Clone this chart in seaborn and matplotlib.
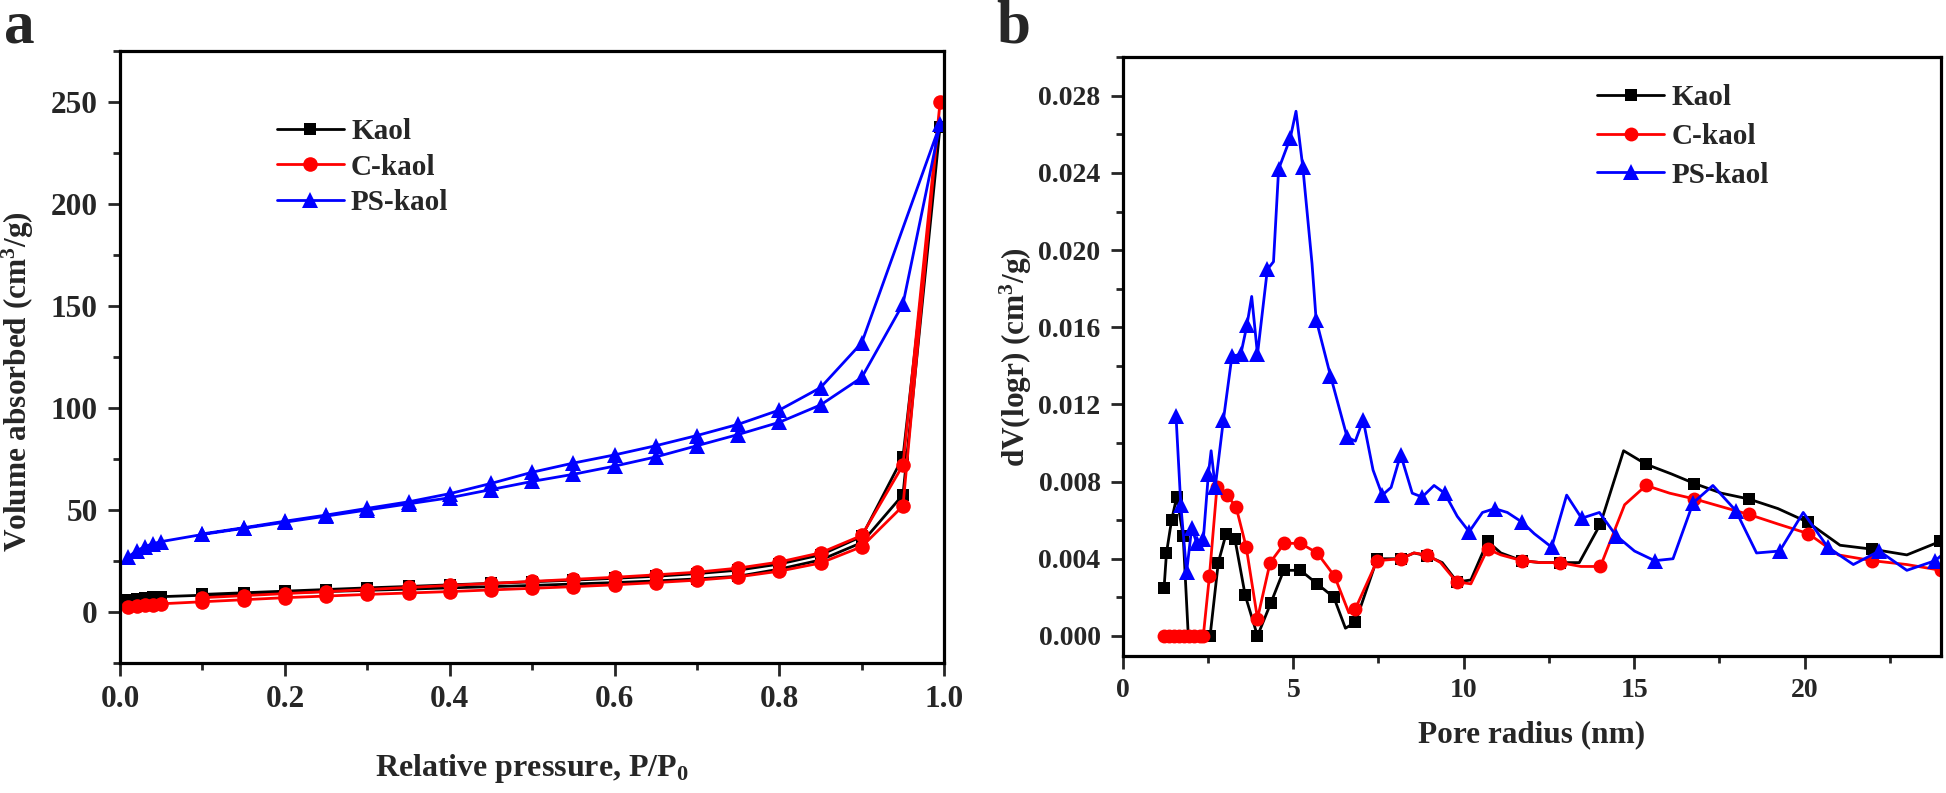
import numpy as np
import pandas as pd
import seaborn as sns
import matplotlib.pyplot as plt
from matplotlib.ticker import MultipleLocator, FormatStrFormatter

# ---- panel a: N2 isotherms, adsorption branch then desorption branch ----
p_ads = [0.01, 0.02, 0.03, 0.04, 0.05, 0.10, 0.15, 0.20, 0.25, 0.30, 0.35, 0.40,
         0.45, 0.50, 0.55, 0.60, 0.65, 0.70, 0.75, 0.80, 0.85, 0.90, 0.95, 0.995]
p_des = [0.95, 0.90, 0.85, 0.80, 0.75, 0.70, 0.65, 0.60, 0.55, 0.50, 0.45, 0.40,
         0.35, 0.30, 0.25, 0.20, 0.15, 0.10]
p_des_ps = p_des[1:]

kaol_ads = [6.0, 6.5, 6.9, 7.2, 7.5, 8.2, 8.8, 9.4, 10.0, 10.6, 11.2, 11.8,
            12.4, 13.0, 13.7, 14.4, 15.2, 16.2, 17.5, 21.0, 25.5, 34.0, 57.5, 238]
kaol_des = [76, 37, 28, 23.5, 20.5, 18.8, 17.5, 16.5, 15.6, 14.8, 14.0, 13.3,
            12.5, 11.8, 11.0, 10.2, 9.4, 8.6]
ckaol_ads = [2.2, 2.8, 3.2, 3.6, 4.0, 5.0, 6.0, 7.0, 7.8, 8.6, 9.3, 10.0,
             10.8, 11.6, 12.4, 13.3, 14.4, 15.6, 17.2, 20.0, 24.0, 32.0, 52.0, 250]
ckaol_des = [72, 37.5, 29, 24.5, 21.5, 19.5, 18.2, 17.0, 16.0, 15.0, 14.0, 13.0,
             12.0, 11.0, 10.0, 9.0, 8.0, 7.0]
ps_ads = [27, 30, 32, 33.5, 34.5, 38, 41, 44, 47, 50, 53, 56,
          60, 64, 67.5, 71.5, 76, 81.5, 87, 93, 101.5, 115, 151, 239]
ps_des = [132, 110, 99, 92, 86.5, 81.5, 77, 73, 68.5, 63, 58, 54,
          50.8, 47.5, 44.5, 41.3, 38.3]

# ---- panel b: pore size distribution ----
kaol_r = [1.21, 1.28, 1.43, 1.58, 1.77, 1.92, 2.56, 2.80, 3.03, 3.29, 3.59, 3.95,
          4.34, 4.72, 5.21, 5.70, 6.19, 6.53, 6.82, 7.46, 8.15, 8.54, 8.93, 9.37,
          9.81, 10.21, 10.70, 11.09, 11.71, 12.26, 12.82, 13.39, 14.01, 14.69, 15.35,
          16.09, 16.77, 17.56, 18.36, 19.22, 20.09, 21.04, 21.97, 23.00, 23.98]
kaol_dv = [0.0025, 0.0043, 0.0060, 0.0072, 0.0052, 0.0, 0.0, 0.0038, 0.0053, 0.0050,
           0.0021, 0.0, 0.0017, 0.0034, 0.0034, 0.0027, 0.0020, 0.0004, 0.0007, 0.0040,
           0.0040, 0.0043, 0.00415, 0.0038, 0.0028, 0.0029, 0.0049, 0.0043, 0.0039,
           0.0038, 0.0038, 0.0038, 0.0058, 0.0096, 0.0089, 0.0084, 0.0079, 0.0074,
           0.0071, 0.0066, 0.0059, 0.0047, 0.0045, 0.0042, 0.0049]
kaol_plain = [1.92, 6.53, 8.54, 9.37, 10.21, 11.09, 12.26, 13.39, 14.69, 16.09,
              17.56, 19.22, 21.04, 23.00]

ckaol_r = [1.20, 1.35, 1.50, 1.65, 1.80, 1.95, 2.10, 2.25, 2.36, 2.54, 2.76, 3.05,
           3.32, 3.62, 3.95, 4.32, 4.74, 5.21, 5.70, 6.21, 6.63, 6.82, 7.46, 8.15,
           8.54, 8.93, 9.32, 9.79, 10.21, 10.70, 11.09, 11.71, 12.26, 12.82, 13.44,
           14.01, 14.72, 15.35, 16.04, 16.77, 17.56, 18.36, 19.22, 20.11, 20.99,
           21.99, 23.00, 24.00]
ckaol_dv = [0.0, 0.0, 0.0, 0.0, 0.0, 0.0, 0.0, 0.0, 0.0, 0.0031, 0.0077, 0.0073,
            0.0067, 0.0046, 0.0009, 0.0038, 0.0048, 0.0048, 0.0043, 0.0031, 0.0012,
            0.0014, 0.0039, 0.0040, 0.0043, 0.0042, 0.0038, 0.0028, 0.0027, 0.0045,
            0.0042, 0.0039, 0.0038, 0.0038, 0.0036, 0.0036, 0.0068, 0.0078, 0.0074,
            0.0071, 0.0067, 0.0063, 0.0058, 0.0053, 0.0042, 0.0039, 0.0037, 0.0034]
ckaol_plain = [6.63, 8.54, 9.32, 10.21, 11.09, 12.26, 13.44, 14.72, 16.04, 17.56,
               19.22, 20.99, 23.00]

ps_r = [1.56, 1.70, 1.87, 2.02, 2.17, 2.36, 2.51, 2.59, 2.71, 2.95, 3.20, 3.46,
        3.64, 3.78, 3.95, 4.24, 4.42, 4.57, 4.91, 5.08, 5.28, 5.55, 5.67, 6.09,
        6.58, 6.82, 7.05, 7.34, 7.61, 7.87, 8.15, 8.49, 8.78, 9.13, 9.44, 9.81,
        10.16, 10.55, 10.91, 11.28, 11.71, 12.07, 12.58, 13.02, 13.46, 13.98, 14.47,
        15.01, 15.60, 16.14, 16.73, 17.31, 17.98, 18.59, 19.27, 19.96, 20.68, 21.43,
        22.19, 23.00, 23.83, 24.30]
ps_dv = [0.0114, 0.0068, 0.0033, 0.0056, 0.0048, 0.0050, 0.0084, 0.0096, 0.0077,
         0.0112, 0.0145, 0.0146, 0.0161, 0.0176, 0.0146, 0.0190, 0.0194, 0.0242,
         0.0258, 0.0272, 0.0243, 0.0193, 0.0164, 0.0135, 0.0103, 0.0101, 0.0112,
         0.0086, 0.0073, 0.0077, 0.0094, 0.0074, 0.0072, 0.0078, 0.0074, 0.0062,
         0.0054, 0.0064, 0.0066, 0.0064, 0.0059, 0.0053, 0.0046, 0.0073, 0.0061,
         0.0064, 0.0052, 0.0044, 0.0039, 0.0040, 0.0069, 0.0078, 0.0065, 0.0043,
         0.0044, 0.0064, 0.0046, 0.0037, 0.0044, 0.0034, 0.0039, 0.0046]
ps_plain = [2.59, 3.78, 4.42, 5.08, 5.55, 6.82, 7.34, 7.87, 8.49, 9.13, 9.81, 10.55,
            11.28, 12.07, 13.02, 13.98, 15.01, 16.14, 17.31, 18.59, 19.96, 21.43,
            23.00, 24.30]

labels = ['Kaol', 'C-kaol', 'PS-kaol']
colors = ['black', 'red', 'blue']
markers = ['s', 'o', '^']
msize_a = [8.5, 10.5, 11]
msize_b = [8.5, 10, 11]

sns.set_style('ticks')
plt.rcParams['font.family'] = ['Liberation Serif', 'DejaVu Serif']
plt.rcParams['font.weight'] = 'bold'
plt.rcParams['axes.labelweight'] = 'bold'
plt.rcParams['mathtext.fontset'] = 'custom'
plt.rcParams['mathtext.rm'] = 'Liberation Serif:bold'
plt.rcParams['mathtext.bf'] = 'Liberation Serif:bold'
plt.rcParams['mathtext.it'] = 'Liberation Serif:bold:italic'

fig = plt.figure(figsize=(19.46, 7.93), dpi=100)
ax1 = fig.add_axes([0.0617, 0.164, 0.4235, 0.7716])
ax2 = fig.add_axes([0.577, 0.1728, 0.4204, 0.755])

iso = [(kaol_ads, p_des, kaol_des), (ckaol_ads, p_des, ckaol_des), (ps_ads, p_des_ps, ps_des)]
for (ads, pd_x, des), lab, c, m, ms in zip(iso, labels, colors, markers, msize_a):
    sns.lineplot(x=p_ads + pd_x, y=ads + des, sort=False, estimator=None, ax=ax1,
                 color=c, marker=m, markersize=ms, markeredgewidth=0,
                 markeredgecolor=c, linewidth=2.0, label=lab)

psd = [(kaol_r, kaol_dv, kaol_plain), (ckaol_r, ckaol_dv, ckaol_plain), (ps_r, ps_dv, ps_plain)]
for (r, dv, plain), lab, c, m, ms in zip(psd, labels, colors, markers, msize_b):
    marked = [i for i, v in enumerate(r) if v not in plain]
    sns.lineplot(x=r, y=dv, sort=False, estimator=None, ax=ax2,
                 color=c, marker=m, markersize=ms, markeredgewidth=0,
                 markeredgecolor=c, linewidth=2.0, label=lab, markevery=marked)

for ax, fs in ((ax1, 22.5), (ax2, 20)):
    for s in ax.spines.values():
        s.set_linewidth(2.3)
        s.set_color('black')
    ax.tick_params(which='major', direction='out', length=9, width=2.0,
                   labelsize=fs, pad=7, top=False, right=False)
    ax.tick_params(which='minor', direction='out', length=5, width=2.0,
                   top=False, right=False)
    ax.grid(False)

ax1.set_xlim(0, 1.0)
ax1.set_ylim(-25, 275)
ax1.xaxis.set_major_locator(MultipleLocator(0.2))
ax1.xaxis.set_minor_locator(MultipleLocator(0.1))
ax1.xaxis.set_major_formatter(FormatStrFormatter('%.1f'))
ax1.yaxis.set_major_locator(MultipleLocator(50))
ax1.yaxis.set_minor_locator(MultipleLocator(25))
ax1.set_xlabel('Relative pressure, P/P$_{0}$', fontsize=23, labelpad=27)
ax1.set_ylabel('Volume absorbed (cm$^{3}$/g)', fontsize=22.5)
ax1.yaxis.set_label_coords(-0.102, 0.46)

ax2.set_xlim(0, 24)
ax2.set_ylim(-0.00104, 0.030)
ax2.xaxis.set_major_locator(MultipleLocator(5))
ax2.xaxis.set_minor_locator(MultipleLocator(2.5))
ax2.yaxis.set_major_locator(MultipleLocator(0.004))
ax2.yaxis.set_minor_locator(MultipleLocator(0.002))
ax2.yaxis.set_major_formatter(FormatStrFormatter('%.3f'))
ax2.set_xlabel('Pore radius (nm)', fontsize=22.5, labelpad=12)
ax2.set_ylabel('dV(logr) (cm$^{3}$/g)', fontsize=22.5)
ax2.yaxis.set_label_coords(-0.108, 0.5)

leg_kw = dict(frameon=False, fontsize=21, handlelength=2.3, handletextpad=0.25,
              borderpad=0, borderaxespad=0, loc='upper left')
ax1.legend(bbox_to_anchor=(0.19, 0.89), labelspacing=0.28, **leg_kw)
ax2.legend(bbox_to_anchor=(0.58, 0.955), labelspacing=0.4, **leg_kw)

fig.text(0.002, 0.946, 'a', fontsize=44, fontweight='bold', va='baseline')
fig.text(0.512, 0.946, 'b', fontsize=44, fontweight='bold', va='baseline')

fig.savefig('out.png', dpi=100)
